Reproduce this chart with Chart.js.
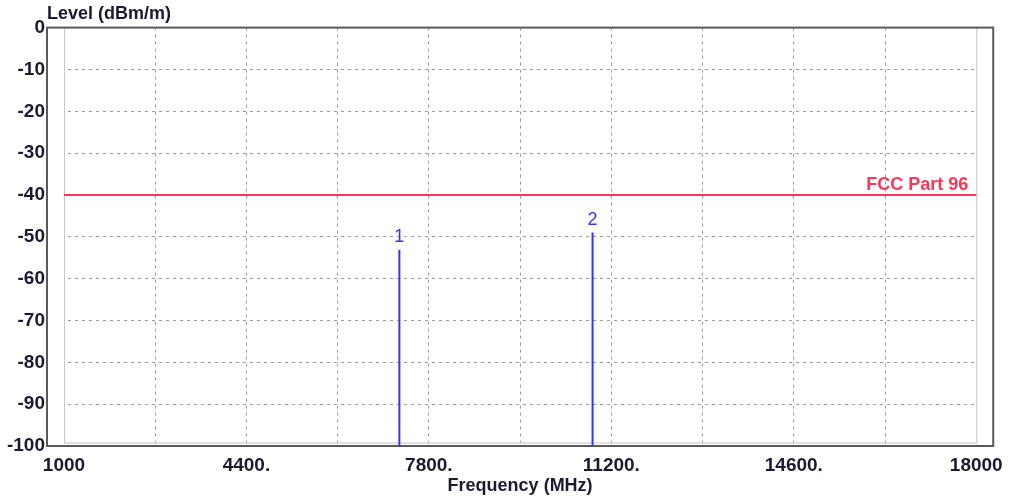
<!DOCTYPE html>
<html>
<head>
<meta charset="utf-8">
<title>Level vs Frequency</title>
<script src="https://cdn.jsdelivr.net/npm/chart.js@4/dist/chart.umd.min.js"></script>
<style>
  html, body { margin: 0; padding: 0; background: #fff; }
  #wrap { width: 1011px; height: 497px; }
</style>
</head>
<body>
<div id="wrap"><canvas id="levelChart" width="1011" height="497"></canvas></div>
<script>
// Axis ticks
const xTicks = [1000, 2700, 4400, 6100, 7800, 9500, 11200, 12900, 14600, 16300, 18000];
const xTickLabels = ['1000', '', '4400.', '', '7800.', '', '11200.', '', '14600.', '', '18000'];
const yTicks = [0, -10, -20, -30, -40, -50, -60, -70, -80, -90, -100];

// Limit line
const limitName = 'FCC Part 96';
const limitFreq = [1000, 18000];
const limitLevel = [-40, -40];

// Emission markers
const markerNames = ['1', '2'];
const markerFreq = [7250, 10850];
const markerLevel = [-53.1, -49.0];

const yFloor = yTicks[yTicks.length - 1];
const textColor = '#1a1a33';
const blue = '#3434ff';
const red = '#ff3558';

const markerSets = markerNames.map((name, i) => ({
  label: 'Marker ' + name,
  data: [{ x: markerFreq[i], y: yFloor }, { x: markerFreq[i], y: markerLevel[i] }],
  borderColor: blue,
  borderWidth: 2,
  pointRadius: 0
}));

const limitSet = {
  label: limitName,
  data: limitFreq.map((f, i) => ({ x: f, y: limitLevel[i] })),
  borderColor: red,
  borderWidth: 2,
  pointRadius: 0
};

// frame + inner bounds, then text labels for limit and markers
const framePlugin = {
  id: 'frame',
  beforeDatasetsDraw(chart) {
    const { ctx, chartArea: a, scales } = chart;
    const x0 = scales.x.getPixelForValue(xTicks[0]);
    const x1 = scales.x.getPixelForValue(xTicks[xTicks.length - 1]);
    ctx.save();
    // grid only runs inside the inner bounds
    ctx.fillStyle = '#fff';
    ctx.fillRect(a.left, a.top, x0 - a.left, a.bottom - a.top);
    ctx.fillRect(x1 + 1, a.top, a.right - x1 - 1, a.bottom - a.top);
    ctx.fillRect(a.left, a.bottom - 3, a.right - a.left, 3);
    ctx.strokeStyle = '#c4c4c4';
    ctx.lineWidth = 1;
    ctx.beginPath();
    ctx.moveTo(x0 + 0.5, a.top);
    ctx.lineTo(x0 + 0.5, a.bottom - 3);
    ctx.lineTo(x1 + 0.5, a.bottom - 3);
    ctx.lineTo(x1 + 0.5, a.top);
    ctx.stroke();
    ctx.strokeStyle = '#5a5a5a';
    ctx.lineWidth = 2;
    ctx.strokeRect(a.left, a.top, a.right - a.left, a.bottom - a.top);
    ctx.restore();
  },
  afterDatasetsDraw(chart) {
    const { ctx, scales } = chart;
    ctx.save();
    ctx.font = 'bold 18px "Liberation Sans", Arial, sans-serif';
    ctx.fillStyle = red;
    ctx.textAlign = 'right';
    ctx.textBaseline = 'alphabetic';
    ctx.fillText(limitName, scales.x.getPixelForValue(limitFreq[1]) - 8, scales.y.getPixelForValue(limitLevel[1]) - 5);

    ctx.font = '18px "Liberation Sans", Arial, sans-serif';
    ctx.fillStyle = blue;
    ctx.textAlign = 'center';
    ctx.textBaseline = 'middle';
    markerNames.forEach((name, i) => {
      ctx.fillText(name, scales.x.getPixelForValue(markerFreq[i]), scales.y.getPixelForValue(markerLevel[i]) - 13);
    });
    ctx.restore();
  }
};

const ctx = document.getElementById('levelChart').getContext('2d');
new Chart(ctx, {
  type: 'line',
  data: { datasets: [limitSet, ...markerSets] },
  options: {
    responsive: false,
    animation: false,
    layout: { padding: { left: 0, right: 16, top: 0, bottom: 0 } },
    plugins: {
      legend: { display: false },
      tooltip: { enabled: false },
      title: {
        display: true,
        text: 'Level (dBm/m)',
        align: 'start',
        fullSize: false,
        color: textColor,
        font: { family: '"Liberation Sans", Arial, sans-serif', size: 18, weight: 'bold' },
        padding: { top: 3, bottom: 3 }
      }
    },
    scales: {
      x: {
        type: 'linear',
        min: 684,
        max: 18316,
        afterBuildTicks: scale => { scale.ticks = xTicks.map(v => ({ value: v })); },
        afterFit: scale => { scale.height = 51; },
        ticks: {
          autoSkip: false,
          maxRotation: 0,
          padding: 8,
          color: textColor,
          font: { family: '"Liberation Sans", Arial, sans-serif', size: 19, weight: 'bold' },
          callback: (v, i) => xTickLabels[i]
        },
        grid: {
          drawTicks: false,
          color: c => (c.index === 0 || c.index === xTicks.length - 1) ? 'rgba(0,0,0,0)' : '#9a9a9a',
          lineWidth: 1
        },
        border: { display: false, dash: [3, 4] },
        title: {
          display: true,
          text: 'Frequency (MHz)',
          color: textColor,
          font: { family: '"Liberation Sans", Arial, sans-serif', size: 18, weight: 'bold' },
          padding: { top: 0, bottom: 0 }
        }
      },
      y: {
        min: yFloor,
        max: yTicks[0],
        afterBuildTicks: scale => { scale.ticks = yTicks.map(v => ({ value: v })); },
        afterFit: scale => { scale.width = 47; },
        ticks: {
          padding: 2,
          color: textColor,
          font: { family: '"Liberation Sans", Arial, sans-serif', size: 19, weight: 'bold' }
        },
        grid: {
          drawTicks: false,
          color: c => (c.tick.value === yTicks[0] || c.tick.value === yFloor) ? 'rgba(0,0,0,0)' : '#9a9a9a',
          lineWidth: 1
        },
        border: { display: false, dash: [3, 4] }
      }
    }
  },
  plugins: [framePlugin]
});
</script>
</body>
</html>
